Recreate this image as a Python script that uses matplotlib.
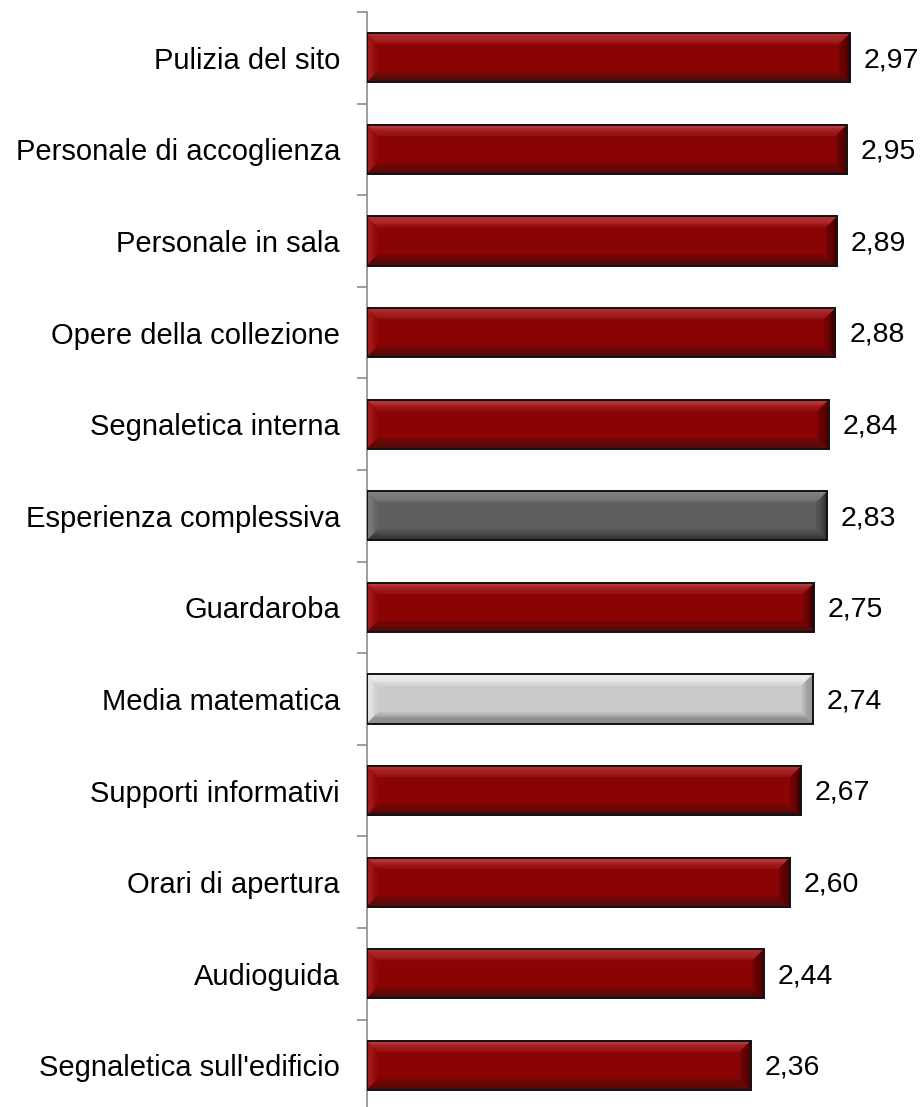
import numpy as np
import matplotlib
matplotlib.use("Agg")
import matplotlib.pyplot as plt
from matplotlib.patches import Polygon
from matplotlib.colors import to_rgb

plt.rcParams['font.family'] = ['Liberation Sans', 'DejaVu Sans']

categories = [
    "Pulizia del sito",
    "Personale di accoglienza",
    "Personale in sala",
    "Opere della collezione",
    "Segnaletica interna",
    "Esperienza complessiva",
    "Guardaroba",
    "Media matematica",
    "Supporti informativi",
    "Orari di apertura",
    "Audioguida",
    "Segnaletica sull'edificio",
]
scores = [2.97, 2.95, 2.89, 2.88, 2.84, 2.83, 2.75, 2.74, 2.67, 2.60, 2.44, 2.36]
styles = ["red", "red", "red", "red", "red", "dark", "red", "light",
          "red", "red", "red", "red"]

# bevel palettes: centre fill, then (outer, inner) colour pairs for each bevel side
palettes = {
    "red": dict(c="#8A0404",
                top=("#C24246", "#941010"), left=("#AE2426", "#8E0707"),
                right=("#330000", "#780303"), bottom=("#3C0E0E", "#7A0505")),
    "dark": dict(c="#5F5F5F",
                 top=("#969696", "#686868"), left=("#878787", "#646464"),
                 right=("#2C2C2C", "#565656"), bottom=("#2C2C2C", "#555555")),
    "light": dict(c="#CBCBCB",
                  top=("#FBFBFB", "#D6D6D6"), left=("#EEEEEE", "#D0D0D0"),
                  right=("#858585", "#BDBDBD"), bottom=("#707070", "#B8B8B8")),
}

W, H = 923, 1107
fig = plt.figure(figsize=(W / 100, H / 100), dpi=100)

n = len(categories)
band_px = 91.6
ax_left = 366.5
ax_top = 12
ax_h = band_px * n
xmax = 3.3
px_per_unit = 162.8
ax_w = xmax * px_per_unit
ax = fig.add_axes([ax_left / W, 1 - (ax_top + ax_h) / H, ax_w / W, ax_h / H])

ypos = np.arange(n)[::-1].astype(float)
bar_h = 0.535
bx = 0.068   # bevel width in data units (x)
by = 0.12    # bevel height in data units (y)
K = 10


def mix(a, b, t):
    a, b = np.array(to_rgb(a)), np.array(to_rgb(b))
    return tuple(a + (b - a) * t)


def ring(v, y0, y1, t0, t1, side):
    if side == "top":
        return [(t0 * bx, y1 - t0 * by), (v - t0 * bx, y1 - t0 * by),
                (v - t1 * bx, y1 - t1 * by), (t1 * bx, y1 - t1 * by)]
    if side == "bottom":
        return [(t0 * bx, y0 + t0 * by), (v - t0 * bx, y0 + t0 * by),
                (v - t1 * bx, y0 + t1 * by), (t1 * bx, y0 + t1 * by)]
    if side == "left":
        return [(t0 * bx, y0 + t0 * by), (t0 * bx, y1 - t0 * by),
                (t1 * bx, y1 - t1 * by), (t1 * bx, y0 + t1 * by)]
    return [(v - t0 * bx, y0 + t0 * by), (v - t0 * bx, y1 - t0 * by),
            (v - t1 * bx, y1 - t1 * by), (v - t1 * bx, y0 + t1 * by)]


for y, v, s in zip(ypos, scores, styles):
    p = palettes[s]
    y0, y1 = y - bar_h / 2, y + bar_h / 2
    ax.barh(y, v, height=bar_h, left=0, color=p["c"], edgecolor="none", zorder=2)
    for side in ("top", "bottom", "left", "right"):
        outer, inner = p[side]
        for k in range(K):
            t0, t1 = k / K, (k + 1) / K
            ax.add_patch(Polygon(ring(v, y0, y1, t0, t1, side), closed=True,
                                 facecolor=mix(outer, inner, (k + 0.5) / K),
                                 edgecolor="none", zorder=3))
    # outline
    ax.barh(y, v, height=bar_h, left=0, color="none", edgecolor="#111111",
            linewidth=1.4, zorder=4)
    ax.text(v + 0.085, y - 0.025, f"{v:.2f}".replace(".", ","), va="center",
            ha="left", fontsize=20.5, color="black")

ax.set_xlim(0, xmax)
ax.set_ylim(-0.5, n - 0.5)
ax.set_yticks(ypos)
ax.set_yticklabels(categories, fontsize=21)
ax.set_yticks(np.arange(n + 1) - 0.5, minor=True)
ax.tick_params(axis="y", which="major", length=0, pad=19)
ax.tick_params(axis="y", which="minor", length=7, width=1.2, color="#8C8C8C")
ax.set_xticks([])
for side in ("top", "right", "bottom"):
    ax.spines[side].set_visible(False)
ax.spines["left"].set_color("#8C8C8C")
ax.spines["left"].set_linewidth(1.2)

fig.savefig("out.png", dpi=100)
